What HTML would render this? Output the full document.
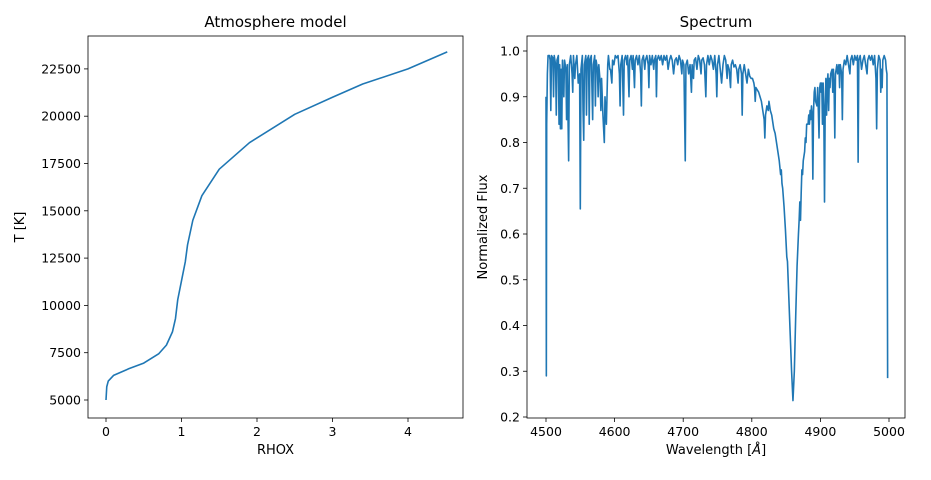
<!DOCTYPE html>
<html><head><meta charset="utf-8"><style>
body{margin:0;background:#fff}
svg{display:block;font-family:"DejaVu Sans","Liberation Sans",sans-serif}
</style></head><body>
<svg id="fig" width="931" height="480"></svg>
<script>
const rhox=[0,0.01,0.03,0.1,0.3,0.5,0.7,0.8,0.88,0.92,0.95,1.0,1.05,1.08,1.15,1.27,1.5,1.9,2.5,3.0,3.4,4.0,4.52];
const temp=[5000,5700,6000,6300,6650,6950,7450,7900,8600,9300,10300,11300,12300,13200,14500,15800,17200,18600,20100,21000,21700,22500,23400];
const leftXTicks=[0,1,2,3,4];
const leftYTicks=[5000,7500,10000,12500,15000,17500,20000,22500];
const wl=[4500,4500.5,4501,4502,4503,4505,4506,4507,4508,4510,4511,4512,4514,4515,4516,4518,4519,4520,4521,4522,4523,4524,4526,4527,4529,4530,4531,4533,4534,4536,4538,4539,4540,4542,4543,4545,4547,4549,4550,4551,4553,4554,4555,4556,4558,4559,4560,4562,4563,4564,4566,4568,4569,4571,4572,4573,4575,4576,4577,4579,4580,4581,4583,4585,4586,4588,4590,4591,4593,4594,4596,4597,4599,4601,4603,4605,4607,4608,4609,4611,4613,4614,4616,4618,4619,4621,4622,4624,4626,4627,4629,4630,4632,4634,4636,4638,4639,4640,4642,4644,4645,4647,4649,4650,4651,4653,4655,4657,4658,4660,4661,4662,4664,4666,4668,4670,4672,4674,4676,4678,4680,4682,4684,4686,4688,4690,4692,4694,4696,4698,4699,4701,4703,4704,4706,4708,4710,4712,4713,4715,4716,4718,4720,4722,4724,4726,4727,4729,4731,4733,4734,4736,4738,4740,4742,4744,4746,4748,4749,4750,4752,4754,4756,4758,4760,4762,4764,4765,4767,4769,4770,4772,4774,4776,4778,4780,4781,4783,4785,4786,4787,4789,4791,4793,4795,4797,4799,4801,4803,4804,4805,4806,4808,4810,4812,4814,4816,4818,4819,4820,4822,4824,4825,4827,4829,4830,4832,4834,4836,4838,4840,4842,4843,4844,4845,4847,4849,4851,4852,4854,4856,4858,4860,4862,4864,4866,4868,4869,4870,4871,4872,4873,4874,4875,4877,4878,4879,4880,4882,4883,4884,4885,4886,4887,4888,4889,4890,4891,4892,4893,4895,4896,4897,4898,4899,4900,4901,4902,4903,4904,4905,4906,4907,4908,4909,4910,4911,4912,4913,4914,4915,4917,4918,4919,4920,4921,4922,4924,4925,4927,4928,4929,4931,4932,4933,4935,4937,4939,4941,4943,4944,4946,4948,4950,4952,4954,4955,4956,4958,4960,4962,4964,4966,4968,4969,4971,4973,4975,4977,4979,4981,4982,4983,4985,4987,4988,4989,4990,4991,4993,4995,4996,4997,4998];
const flux=[0.90,0.29,0.84,0.95,0.99,0.99,0.98,0.87,0.99,0.985,0.90,0.99,0.97,0.86,0.98,0.99,0.84,0.97,0.83,0.96,0.83,0.98,0.90,0.98,0.96,0.85,0.97,0.76,0.97,0.99,0.95,0.91,0.99,0.94,0.97,0.99,0.93,0.95,0.655,0.96,0.99,0.87,0.805,0.97,0.99,0.86,0.98,0.99,0.84,0.98,0.99,0.85,0.97,0.99,0.88,0.98,0.96,0.90,0.97,0.93,0.87,0.94,0.86,0.80,0.90,0.84,0.97,0.99,0.96,0.96,0.93,0.98,0.97,0.99,0.985,0.99,0.95,0.88,0.97,0.99,0.86,0.98,0.99,0.97,0.99,0.90,0.98,0.99,0.96,0.99,0.92,0.98,0.99,0.97,0.99,0.95,0.88,0.98,0.99,0.96,0.98,0.99,0.97,0.92,0.99,0.97,0.99,0.96,0.98,0.99,0.90,0.98,0.99,0.98,0.99,0.97,0.99,0.98,0.99,0.96,0.98,0.99,0.98,0.95,0.98,0.985,0.97,0.99,0.98,0.95,0.98,0.97,0.76,0.97,0.98,0.95,0.97,0.91,0.97,0.94,0.98,0.985,0.96,0.99,0.98,0.95,0.98,0.985,0.97,0.90,0.97,0.99,0.97,0.99,0.98,0.96,0.99,0.95,0.90,0.97,0.99,0.96,0.93,0.97,0.99,0.98,0.94,0.97,0.96,0.92,0.97,0.98,0.965,0.97,0.96,0.93,0.96,0.97,0.95,0.86,0.95,0.97,0.95,0.93,0.96,0.945,0.94,0.94,0.93,0.92,0.89,0.92,0.915,0.91,0.90,0.89,0.87,0.85,0.81,0.86,0.88,0.87,0.89,0.87,0.86,0.85,0.83,0.82,0.80,0.78,0.76,0.73,0.74,0.71,0.70,0.66,0.61,0.55,0.54,0.46,0.38,0.30,0.236,0.30,0.42,0.53,0.60,0.63,0.67,0.63,0.69,0.74,0.73,0.76,0.78,0.81,0.80,0.84,0.84,0.86,0.84,0.87,0.85,0.88,0.86,0.72,0.87,0.91,0.92,0.89,0.88,0.92,0.87,0.81,0.92,0.93,0.91,0.93,0.84,0.93,0.86,0.67,0.88,0.94,0.86,0.93,0.95,0.87,0.94,0.92,0.95,0.96,0.91,0.96,0.92,0.81,0.95,0.97,0.95,0.97,0.92,0.97,0.95,0.85,0.96,0.98,0.97,0.99,0.97,0.95,0.98,0.99,0.97,0.99,0.98,0.99,0.757,0.98,0.99,0.96,0.98,0.99,0.97,0.95,0.98,0.99,0.98,0.99,0.97,0.99,0.94,0.83,0.96,0.99,0.98,0.91,0.96,0.92,0.98,0.99,0.98,0.96,0.95,0.285];
const rightXTicks=[4500,4600,4700,4800,4900,5000];
const rightYTicks=[0.2,0.3,0.4,0.5,0.6,0.7,0.8,0.9,1.0];

const NS="http://www.w3.org/2000/svg";
const svg=document.getElementById('fig');
function mk(tag,attrs,parent){const e=document.createElementNS(NS,tag);for(const k in attrs)e.setAttribute(k,attrs[k]);(parent||svg).appendChild(e);return e;}

// left axes
const Lx=v=>106+75.5*v, Ly=v=>400-(v-5000)*47.3/2500;
// right axes
const Rx=v=>546+(v-4500)*0.686, Ry=v=>51+(1-v)*457.5;

function panel(x0,y0,x1,y1,xs,ys,xt,yt,xfmt,yfmt,title,xl,yl,ylx,pfx){
  const g=mk('g',{});
  
  
  xt.forEach(v=>{const x=xs(v);
    const t=mk('line',{x1:x,x2:x,y1:y1,y2:y1+4,stroke:'#000','stroke-width':0.8},g);
    
    const l=mk('text',{x:x,y:y1+18,'text-anchor':'middle','font-size':12.5},g);l.textContent=xfmt(v);
    });
  yt.forEach(v=>{const y=ys(v);
    const t=mk('line',{x1:x0-4,x2:x0,y1:y,y2:y,stroke:'#000','stroke-width':0.8},g);
    
    const l=mk('text',{x:x0-7,y:y+4.5,'text-anchor':'end','font-size':12.5},g);l.textContent=yfmt(v);
    });
  const ti=mk('text',{x:(x0+x1)/2,y:y0-9,'text-anchor':'middle','font-size':15},g);ti.textContent=title;
  
  const xa=mk('text',{x:(x0+x1)/2,y:y1+36,'text-anchor':'middle','font-size':13},g);xa.innerHTML=xl;
  
  const ya=mk('text',{x:ylx,y:(y0+y1)/2,'text-anchor':'middle','font-size':13,transform:`rotate(-90 ${ylx} ${(y0+y1)/2})`},g);ya.textContent=yl;
  
  return g;
}
function frame(x0,y0,x1,y1,pfx){const r=mk('rect',{x:x0,y:y0,width:x1-x0,height:y1-y0,fill:'none',stroke:'#000','stroke-width':0.8});
  }

panel(88,36,463,418,Lx,Ly,leftXTicks,leftYTicks,v=>String(v),v=>String(v),'Atmosphere model','RHOX','T [K]',24,'atmosphere');
panel(527,36,905,418,Rx,Ry,rightXTicks,rightYTicks,v=>String(v),v=>v.toFixed(1),'Spectrum','Wavelength [<tspan font-style="italic">Å</tspan>]','Normalized Flux',487,'spectrum');

const p1=mk('polyline',{points:rhox.map((v,i)=>Lx(v)+','+Ly(temp[i])).join(' '),fill:'none',stroke:'#1f77b4','stroke-width':1.6,'stroke-linejoin':'round'});


const p2=mk('polyline',{points:wl.map((v,i)=>Rx(v)+','+Ry(flux[i])).join(' '),fill:'none',stroke:'#1f77b4','stroke-width':1.6,'stroke-linejoin':'round'});


frame(88,36,463,418,'atmosphere');
frame(527,36,905,418,'spectrum');
</script>
</body></html>
